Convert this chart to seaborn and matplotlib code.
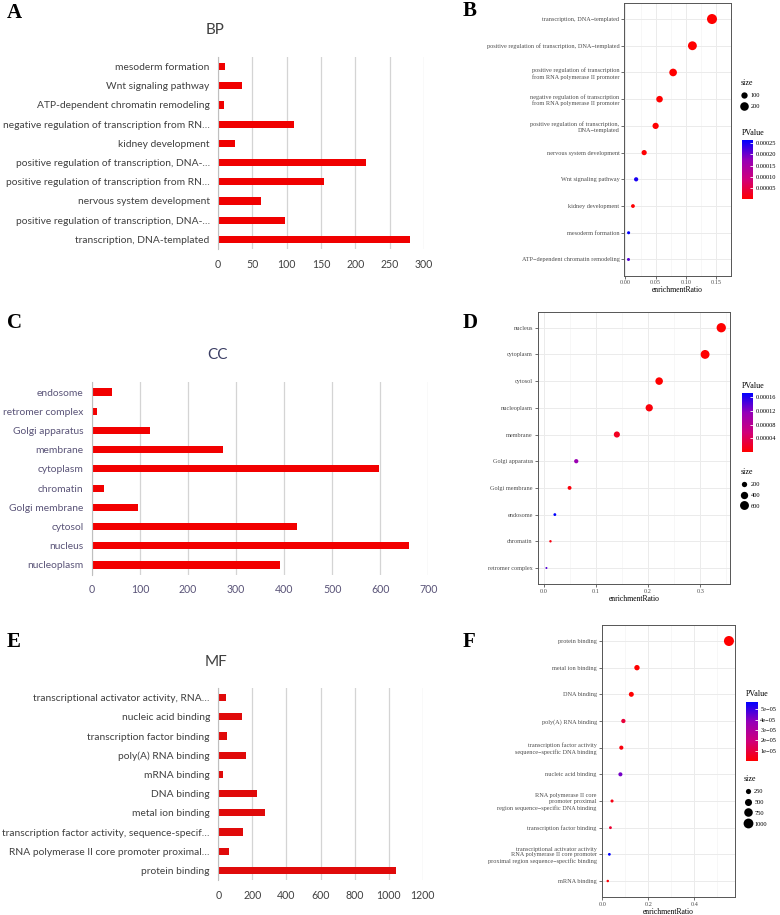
import pandas as pd
import seaborn as sns
import matplotlib.pyplot as plt
from matplotlib.colors import LinearSegmentedColormap, Normalize
from matplotlib.cm import ScalarMappable
from matplotlib.lines import Line2D

W, H = 780, 915

# ---------------- data ----------------
# bar charts (top to bottom)
bp_bar_terms = ["mesoderm formation", "Wnt signaling pathway", "ATP-dependent chromatin remodeling",
                "negative regulation of transcription from RN…", "kidney development",
                "positive regulation of transcription, DNA-…",
                "positive regulation of transcription from RN…", "nervous system development",
                "positive regulation of transcription, DNA-…", "transcription, DNA-templated"]
bp_bar_counts = [10, 35, 9, 110, 25, 215, 155, 62, 97, 279]

cc_bar_terms = ["endosome", "retromer complex", "Golgi apparatus", "membrane", "cytoplasm",
                "chromatin", "Golgi membrane", "cytosol", "nucleus", "nucleoplasm"]
cc_bar_counts = [41, 10, 120, 272, 598, 25, 96, 426, 660, 392]

mf_bar_terms = ["transcriptional activator activity, RNA…", "nucleic acid binding",
                "transcription factor binding", "poly(A) RNA binding", "mRNA binding", "DNA binding",
                "metal ion binding", "transcription factor activity, sequence-specif…",
                "RNA polymerase II core promoter proximal…", "protein binding"]
mf_bar_counts = [45, 139, 51, 161, 29, 228, 273, 147, 65, 1043]

# dot plots (top to bottom)
bp_dot_terms = ["transcription, DNA−templated",
                "positive regulation of transcription, DNA−templated",
                "positive regulation of transcription\nfrom RNA polymerase II promoter",
                "negative regulation of transcription\nfrom RNA polymerase II promoter",
                "positive regulation of transcription,\nDNA−templated",
                "nervous system development", "Wnt signaling pathway", "kidney development",
                "mesoderm formation", "ATP−dependent chromatin remodeling"]
bp_dot_ratio = [0.1435, 0.111, 0.079, 0.0565, 0.050, 0.031, 0.0177, 0.0124, 0.0052, 0.005]
bp_dot_pvalue = [1e-20, 1e-12, 1e-8, 1e-6, 2e-6, 3e-6, 0.000250, 3e-6, 0.000265, 0.000215]
bp_dot_size = [279, 215, 155, 110, 97, 62, 35, 25, 10, 9]

cc_dot_terms = ["nucleus", "cytoplasm", "cytosol", "nucleoplasm", "membrane", "Golgi apparatus",
                "Golgi membrane", "endosome", "chromatin", "retromer complex"]
cc_dot_ratio = [0.340, 0.309, 0.221, 0.202, 0.140, 0.0622, 0.0494, 0.0212, 0.0128, 0.0051]
cc_dot_pvalue = [1e-30, 1e-20, 1e-10, 5e-6, 1.5e-5, 0.00011, 5e-6, 0.000173, 8e-6, 0.00014]
cc_dot_size = [660, 598, 426, 392, 272, 120, 96, 41, 25, 10]

mf_dot_terms = ["protein binding", "metal ion binding", "DNA binding", "poly(A) RNA binding",
                "transcription factor activity\nsequence−specific DNA binding",
                "nucleic acid binding",
                "RNA polymerase II core\npromoter proximal\nregion sequence−specific DNA binding",
                "transcription factor binding",
                "transcriptional activator activity\nRNA polymerase II core promoter\nproximal region sequence−specific binding",
                "mRNA binding"]
mf_dot_ratio = [0.550, 0.150, 0.1255, 0.0909, 0.082, 0.078, 0.0416, 0.0346, 0.030, 0.023]
mf_dot_pvalue = [1e-40, 1e-15, 1e-10, 9e-6, 2e-6, 4.2e-5, 3e-6, 8e-6, 5.7e-5, 1e-6]
mf_dot_size = [1043, 273, 228, 161, 147, 139, 65, 51, 45, 29]

# ---------------- style ----------------
plt.rcParams['font.family'] = ['Liberation Serif', 'DejaVu Serif']
cmap = LinearSegmentedColormap.from_list('pv', ['#ff0000', '#d0007a', '#9500b8', '#0000ff'])

fig = plt.figure(figsize=(W / 100, H / 100), dpi=100)


def px(x0, y0, x1, y1):
    return [x0 / W, 1 - y1 / H, (x1 - x0) / W, (y1 - y0) / H]


def bar_panel(rect, labels, counts, xmax, step, color, text_color, title, title_xy, title_color):
    ax = fig.add_axes(px(*rect))
    ids = [str(i) for i in range(len(labels))]
    sns.barplot(x=counts, y=ids, orient='h', color=color, saturation=1, width=0.37, ax=ax)
    ax.set_xlim(0, xmax)
    ax.set_ylim(len(labels) - 0.5, -0.5)
    ax.set_xticks(range(0, xmax + 1, step))
    ax.set_yticks(range(len(labels)))
    ax.set_yticklabels(labels, family='Lato', fontsize=7.4, color=text_color)
    for t in ax.get_xticklabels():
        t.set_family('Lato')
        t.set_fontsize(7.6)
        t.set_color(text_color)
    ax.tick_params(length=0)
    ax.tick_params(axis='y', pad=6)
    ax.tick_params(axis='x', pad=7)
    ax.grid(axis='x', color='#d4d4d4', lw=0.9)
    ax.set_axisbelow(True)
    for s in ['top', 'right', 'bottom']:
        ax.spines[s].set_visible(False)
    ax.spines['left'].set_color('#bfbfbf')
    ax.set_xlabel('')
    ax.set_ylabel('')
    fig.text(title_xy[0] / W, 1 - title_xy[1] / H, title, ha='center', va='center',
             family='Lato', fontsize=11, color=title_color)


def dot_panel(rect, terms, ratio, pval, size, sizes, xticks, xlabels, cbar_rect, cb_ticks,
              cb_labels, pv_title_y, size_vals, size_title_y):
    ax = fig.add_axes(px(*rect))
    df = pd.DataFrame({'term': terms, 'ratio': ratio, 'p': pval, 'size': size})
    norm = Normalize(min(pval), max(pval))
    snorm = (min(size), max(size))
    sns.scatterplot(data=df, x='ratio', y='term', hue='p', size='size', palette=cmap,
                    hue_norm=norm, sizes=sizes, size_norm=snorm, legend=False,
                    edgecolor='none', ax=ax, zorder=3)
    lo, hi = min(ratio), max(ratio)
    pad = 0.05 * (hi - lo)
    ax.set_xlim(lo - pad, hi + pad)
    ax.set_ylim(len(terms) - 1 + 0.6, -0.6)
    ax.set_xticks(xticks)
    ax.set_xticklabels(xlabels)
    minor = [(a + b) / 2 for a, b in zip(xticks[:-1], xticks[1:])]
    minor.append(xticks[-1] + (xticks[1] - xticks[0]) / 2)
    ax.set_xticks(minor, minor=True)
    ax.grid(which='major', color='#ebebeb', lw=0.7)
    ax.grid(which='minor', axis='x', color='#f2f2f2', lw=0.4)
    ax.set_axisbelow(True)
    ax.tick_params(which='minor', length=0)
    ax.tick_params(labelsize=4.5, labelcolor='#4d4d4d', length=2, width=0.5, color='#333333', pad=1.5)
    for s in ax.spines.values():
        s.set_color('#555555')
        s.set_linewidth(0.7)
    ax.set_xlabel('enrichmentRatio', fontsize=5.5, labelpad=0.5)
    ax.set_ylabel('')

    # colour bar
    cax = fig.add_axes(px(*cbar_rect))
    cb = fig.colorbar(ScalarMappable(norm=norm, cmap=cmap), cax=cax)
    cb.outline.set_visible(False)
    cb.set_ticks(cb_ticks)
    cb.set_ticklabels(cb_labels)
    cax.tick_params(labelsize=4.6, length=2.5, width=0.6, color='white', direction='in', pad=2)
    fig.text(cbar_rect[0] / W, 1 - pv_title_y / H, 'PValue', fontsize=5.8, va='center', ha='left')

    # size legend
    def area(v):
        return sizes[0] + (v - snorm[0]) / (snorm[1] - snorm[0]) * (sizes[1] - sizes[0])
    handles = [Line2D([], [], marker='o', ls='', color='black', markeredgewidth=0,
                      markersize=area(v) ** 0.5) for v in size_vals]
    fig.legend(handles, [str(v) for v in size_vals], title='size', loc='upper left',
               bbox_to_anchor=(cbar_rect[0] / W - 0.002, 1 - size_title_y / H), frameon=False,
               fontsize=4.6, title_fontsize=5.8, handletextpad=0.4, labelspacing=0.85,
               borderpad=0, borderaxespad=0, handlelength=1.2, alignment='left')


# ---------------- panels ----------------
bar_panel((218, 57, 424, 249), bp_bar_terms, bp_bar_counts, 300, 50, '#f00000', '#404040',
          'BP', (215, 30), '#404040')
bar_panel((92, 382.4, 428.3, 574.6), cc_bar_terms, cc_bar_counts, 700, 100, '#f20000', '#5a5478',
          'CC', (217, 355), '#3a3d63')
bar_panel((218.3, 688, 422.7, 880), mf_bar_terms, mf_bar_counts, 1200, 200, '#e00a0a', '#404040',
          'MF', (216, 662), '#404040')

dot_panel((624.3, 3, 731, 275.5), bp_dot_terms, bp_dot_ratio, bp_dot_pvalue, bp_dot_size, (4.7, 52),
          [0.0, 0.05, 0.10, 0.15], ['0.00', '0.05', '0.10', '0.15'], (742, 140, 753, 199),
          [5e-5, 1e-4, 1.5e-4, 2e-4, 2.5e-4], ['0.00005', '0.00010', '0.00015', '0.00020', '0.00025'],
          133, [100, 200], 79)
dot_panel((537.7, 311.7, 730, 584), cc_dot_terms, cc_dot_ratio, cc_dot_pvalue, cc_dot_size, (2.1, 45),
          [0.0, 0.1, 0.2, 0.3], ['0.0', '0.1', '0.2', '0.3'], (742, 393, 753, 452),
          [4e-5, 8e-5, 1.2e-4, 1.6e-4], ['0.00004', '0.00008', '0.00012', '0.00016'],
          386, [200, 400, 600], 468)
dot_panel((601.7, 625, 735, 897), mf_dot_terms, mf_dot_ratio, mf_dot_pvalue, mf_dot_size, (3.2, 52),
          [0.0, 0.2, 0.4], ['0.0', '0.2', '0.4'], (745.5, 702, 757.5, 761),
          [1e-5, 2e-5, 3e-5, 4e-5, 5e-5], ['1e−05', '2e−05', '3e−05', '4e−05', '5e−05'],
          694, [250, 500, 750, 1000], 775)

# panel letters
for letter, x, y in [('A', 7, 13), ('B', 463, 11), ('C', 7, 323), ('D', 463, 323),
                     ('E', 7, 642), ('F', 463, 642)]:
    fig.text(x / W, 1 - y / H, letter, fontsize=15, fontweight='bold', va='center', ha='left')

fig.savefig('out.png', dpi=100)
